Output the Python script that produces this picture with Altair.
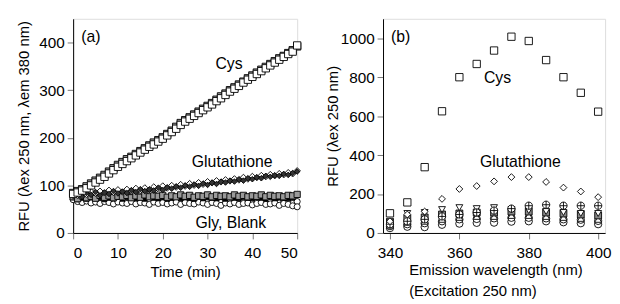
import altair as alt
import pandas as pd

FONT = "Liberation Sans"

# ---------------- Panel (a): time course ----------------
time_min = list(range(0, 51))
cys_gray = [84, 88, 92, 98, 104, 110, 116, 122, 129, 136, 143, 149, 155, 160, 166, 172, 178, 184, 190, 195,
            201, 208, 215, 223, 231, 237, 243, 249, 255, 261, 267, 273, 280, 287, 293, 300, 306, 312, 318, 325,
            331, 337, 343, 349, 355, 361, 367, 372, 378, 384, 392]
cys_open = [82, 85, 89, 94, 100, 106, 112, 118, 125, 132, 139, 145, 151, 157, 163, 169, 175, 181, 186, 192,
            198, 205, 212, 219, 227, 234, 240, 246, 252, 258, 264, 270, 277, 283, 290, 297, 303, 309, 316, 322,
            328, 334, 340, 346, 352, 358, 364, 370, 376, 381, 394]
glut_black = [78, 82, 76, 84, 80, 86, 79, 85, 82, 88, 83, 87, 84, 90, 86, 92, 88, 91, 89, 95, 90, 96, 93, 98,
              95, 100, 97, 102, 99, 104, 101, 106, 103, 108, 106, 110, 108, 113, 110, 115, 113, 117, 115, 120,
              118, 121, 120, 124, 122, 126, 129]
glut_open = [82, 79, 85, 81, 87, 83, 88, 84, 90, 85, 91, 86, 92, 88, 94, 89, 95, 91, 97, 92, 99, 94, 100, 96,
             102, 98, 104, 100, 106, 102, 108, 105, 110, 107, 112, 109, 114, 111, 117, 113, 119, 116, 121, 118,
             123, 120, 125, 122, 127, 124, 131]
gly_gray = [76, 72, 78, 74, 77, 73, 79, 75, 78, 74, 77, 76, 79, 74, 78, 75, 80, 76, 78, 77, 79, 75, 78, 76,
            80, 77, 79, 75, 78, 77, 80, 76, 79, 77, 78, 76, 80, 77, 79, 76, 78, 77, 80, 76, 79, 77, 78, 76,
            79, 78, 81]
gly_black = [74, 70, 73, 71, 75, 72, 74, 70, 73, 72, 75, 71, 74, 73, 72, 74, 71, 75, 73, 72, 74, 71, 73, 75,
             72, 74, 73, 71, 75, 72, 74, 73, 72, 75, 71, 74, 73, 72, 75, 73, 72, 74, 73, 71, 75, 72, 74, 73,
             72, 74, 79]
blank_1 = [70, 66, 64, 67, 63, 65, 62, 66, 64, 61, 65, 63, 62, 66, 61, 64, 63, 60, 65, 62, 64, 61, 63, 65,
           60, 64, 62, 61, 65, 63, 60, 64, 62, 58, 63, 61, 64, 60, 62, 63, 59, 62, 64, 60, 61, 63, 58, 62,
           60, 57, 55]
blank_2 = [74, 70, 68, 71, 67, 69, 66, 70, 68, 67, 69, 66, 68, 70, 66, 68, 67, 65, 69, 67, 68, 66, 69, 67,
           65, 68, 67, 66, 69, 67, 65, 68, 67, 64, 69, 66, 68, 65, 67, 68, 64, 67, 68, 65, 66, 68, 63, 66,
           65, 62, 66]

a_x_ticks = [0, 10, 20, 30, 40, 50]
a_y_ticks = [0, 100, 200, 300, 400]
a_labels = ["(a)", "Cys", "Glutathione", "Gly, Blank"]
a_label_x = [1.8, 34.8, 35.5, 35.2]
a_label_y = [411, 355, 148, 20]
a_label_align = ["left", "center", "center", "center"]

# ---------------- Panel (b): emission spectra ----------------
wavelength = [340, 345, 350, 355, 360, 365, 370, 375, 380, 385, 390, 395, 400]
b_cys = [101, 157, 338, 625, 800, 868, 937, 1008, 986, 888, 800, 720, 623]
b_glut = [60, 95, 110, 175, 226, 241, 265, 287, 287, 262, 233, 213, 184]
b_circplus = [45, 60, 70, 85, 95, 105, 115, 125, 140, 145, 140, 140, 140]
b_tridown = [60, 100, 105, 120, 130, 125, 130, 120, 115, 110, 105, 100, 100]
b_gray_sq = [55, 75, 80, 95, 100, 105, 105, 110, 110, 105, 100, 95, 90]
b_triup = [40, 55, 60, 70, 80, 85, 85, 90, 90, 85, 80, 75, 70]
b_circ2 = [35, 45, 50, 60, 70, 72, 75, 78, 78, 75, 70, 68, 62]
b_blank = [25, 32, 30, 42, 48, 52, 53, 58, 60, 60, 55, 50, 45]

b_x_ticks = [340, 360, 380, 400]
b_y_ticks = [0, 200, 400, 600, 800, 1000]
b_labels = ["(b)", "Cys", "Glutathione"]
b_label_x = [340.3, 371, 377.6]
b_label_y = [1005, 796, 363]
b_label_align = ["left", "center", "center"]

CIRCLE_PLUS = "M-1,0A1,1 0 1,0 1,0A1,1 0 1,0 -1,0ZM-1,0L1,0M0,-1L0,1"


def series(xs, ys, shape, fill, size, xenc, yenc):
    df = pd.DataFrame({"x": xs, "y": ys})
    return alt.Chart(df).mark_point(
        shape=shape, filled=True, fill=fill, stroke="black", strokeWidth=0.9,
        size=size, opacity=1, clip=False,
    ).encode(x=xenc, y=yenc)


def labels(texts, xs, ys, aligns, xenc, yenc, fs):
    layers = []
    for t, x, y, al in zip(texts, xs, ys, aligns):
        df = pd.DataFrame({"x": [x], "y": [y], "t": [t]})
        layers.append(alt.Chart(df).mark_text(
            align=al, baseline="middle", font=FONT, fontSize=fs, color="black"
        ).encode(x=xenc, y=yenc, text="t:N"))
    return layers


axis_common = dict(
    grid=False, domainColor="black", domainWidth=1, tickColor="#777777", tickSize=6,
    labelFont=FONT, labelFontSize=15.5, labelColor="black",
    titleFont=FONT, titleFontSize=15, titleFontWeight="normal", titleColor="black",
    format="d",
)

xa = alt.X("x:Q", scale=alt.Scale(domain=[0, 50], nice=False, zero=False),
           axis=alt.Axis(values=a_x_ticks, title="Time (min)", titlePadding=4, labelPadding=7, **axis_common))
ya = alt.Y("y:Q", scale=alt.Scale(domain=[0, 450], nice=False),
           axis=alt.Axis(values=a_y_ticks, title="RFU (λex 250 nm, λem 380 nm)", titlePadding=7,
                         labelPadding=3, **axis_common))

layers_a = [
    series(time_min, blank_2, "circle", "white", 38, xa, ya),
    series(time_min, blank_1, "circle", "white", 38, xa, ya),
    series(time_min, gly_black, "triangle-up", "black", 24, xa, ya),
    series(time_min, gly_gray, "square", "#9a9a9a", 40, xa, ya),
    series(time_min, glut_open, "diamond", "white", 38, xa, ya),
    series(time_min, glut_black, "diamond", "#333333", 32, xa, ya),
    series(time_min, cys_gray, "square", "#999999", 55, xa, ya),
    series(time_min, cys_open, "square", "white", 55, xa, ya),
] + labels(a_labels, a_label_x, a_label_y, a_label_align, xa, ya, 16)

panel_a = alt.layer(*layers_a).properties(width=227, height=217)

xb = alt.X("x:Q", scale=alt.Scale(domain=[338, 402], nice=False, zero=False),
           axis=alt.Axis(values=b_x_ticks,
                         title=["Emission wavelength (nm)", "(Excitation 250 nm)"],
                         titleAlign="left", titleX=26, titlePadding=2, titleLineHeight=21,
                         labelPadding=7, **axis_common))
yb = alt.Y("y:Q", scale=alt.Scale(domain=[0, 1100], nice=False),
           axis=alt.Axis(values=b_y_ticks, title="RFU (λex 250 nm)", titlePadding=0,
                         labelPadding=3, **axis_common))

layers_b = [
    series(wavelength, b_blank, "circle", "white", 55, xb, yb),
    series(wavelength, b_circ2, "circle", "white", 55, xb, yb),
    series(wavelength, b_triup, "triangle-up", "white", 48, xb, yb),
    series(wavelength, b_gray_sq, "square", "#888888", 48, xb, yb),
    series(wavelength, b_tridown, "triangle-down", "white", 48, xb, yb),
    series(wavelength, b_circplus, CIRCLE_PLUS, "white", 55, xb, yb),
    series(wavelength, b_glut, "diamond", "white", 48, xb, yb),
    series(wavelength, b_cys, "square", "white", 55, xb, yb),
] + labels(b_labels, b_label_x, b_label_y, b_label_align, xb, yb, 16)

panel_b = alt.layer(*layers_b).properties(width=225, height=217)

chart = alt.hconcat(panel_a, panel_b, spacing=87, bounds="flush").properties(
    padding={"left": 8, "top": 8, "right": 0, "bottom": 0}
).configure_view(stroke="black", strokeWidth=1).configure_axis(
    titleFontWeight="normal"
).configure(background="white")

chart.save("out.html", embed_options={"renderer": "svg", "actions": False})
